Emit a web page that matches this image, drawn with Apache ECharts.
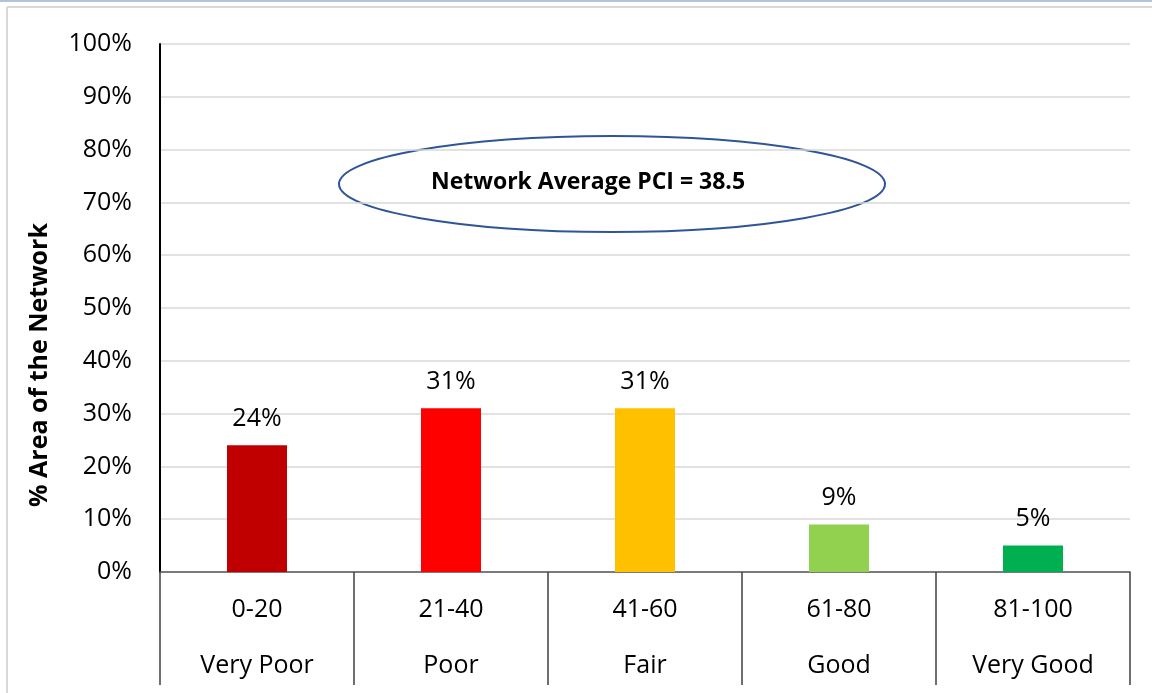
<!DOCTYPE html>
<html>
<head>
<meta charset="utf-8">
<title>PCI distribution</title>
<script src="https://cdn.jsdelivr.net/npm/echarts@6/dist/echarts.min.js"></script>
<style>
  html, body { margin: 0; padding: 0; background: #fff; }
  #chart { width: 1152px; height: 693px; }
</style>
</head>
<body>
<div id="chart"></div>
<script>
// data
var ranges = ['0-20', '21-40', '41-60', '61-80', '81-100'];
var ratings = ['Very Poor', 'Poor', 'Fair', 'Good', 'Very Good'];
var areaPct = [24, 31, 31, 9, 5];
var barColors = ['#C00000', '#FF0000', '#FFC000', '#92D050', '#00B050'];
var yTicks = [0, 10, 20, 30, 40, 50, 60, 70, 80, 90, 100];
var avgText = 'Network Average PCI = 38.5';

var font = '"Open Sans", "DejaVu Sans", sans-serif';

var chart = echarts.init(document.getElementById('chart'));

var cats = ranges.map(function (r, i) { return r + '|' + ratings[i]; });

chart.setOption({
    animation: false,
    grid: { left: 160, right: 22, top: 44, bottom: 121 },
    xAxis: {
        type: 'category',
        data: cats,
        axisLine: { lineStyle: { color: '#595959', width: 1.5 } },
        axisTick: { show: true, length: 113, alignWithLabel: false, lineStyle: { color: '#404040', width: 1.5 } },
        axisLabel: {
            interval: 0,
            margin: 10,
            formatter: function (v) {
                var p = v.split('|');
                return '{a|' + p[0] + '}\n{b|' + p[1] + '}';
            },
            rich: {
                a: { fontFamily: font, fontSize: 25, color: '#000', lineHeight: 56 },
                b: { fontFamily: font, fontSize: 25, color: '#000', lineHeight: 56 }
            }
        }
    },
    yAxis: {
        type: 'value',
        min: yTicks[0],
        max: yTicks[yTicks.length - 1],
        interval: 10,
        axisLine: { show: true, lineStyle: { color: '#000', width: 2 } },
        axisTick: { show: false },
        splitLine: { lineStyle: { color: '#D9D9D9', width: 1.5 } },
        axisLabel: {
            margin: 28,
            fontFamily: font,
            fontSize: 25,
            color: '#000',
            formatter: '{value}%'
        }
    },
    series: [{
        type: 'bar',
        barWidth: 60,
        data: areaPct.map(function (v, i) {
            return { value: v, itemStyle: { color: barColors[i] } };
        }),
        label: {
            show: true,
            position: 'top',
            distance: 14,
            fontFamily: font,
            fontSize: 25,
            color: '#000',
            formatter: '{c}%'
        }
    }],
    graphic: [
        { type: 'line', shape: { x1: 0, y1: 1, x2: 1152, y2: 1 }, style: { stroke: '#B4C3DC', lineWidth: 2 } },
        { type: 'line', shape: { x1: 7, y1: 7, x2: 1152, y2: 7 }, style: { stroke: '#D9D9D9', lineWidth: 2 } },
        { type: 'line', shape: { x1: 7, y1: 7, x2: 7, y2: 693 }, style: { stroke: '#D9D9D9', lineWidth: 2 } },
        {
            type: 'text',
            x: 40, y: 365,
            rotation: Math.PI / 2,
            style: {
                text: '% Area of the Network',
                font: 'bold 25px ' + font,
                fill: '#000',
                align: 'center',
                verticalAlign: 'middle'
            }
        },
        {
            type: 'ellipse',
            shape: { cx: 612, cy: 184, rx: 273, ry: 48 },
            style: { fill: 'none', stroke: '#2F5597', lineWidth: 2 }
        },
        {
            type: 'text',
            x: 588, y: 182,
            style: {
                text: avgText,
                font: 'bold 23px ' + font,
                fill: '#000',
                align: 'center',
                verticalAlign: 'middle'
            }
        }
    ]
});
</script>
</body>
</html>
